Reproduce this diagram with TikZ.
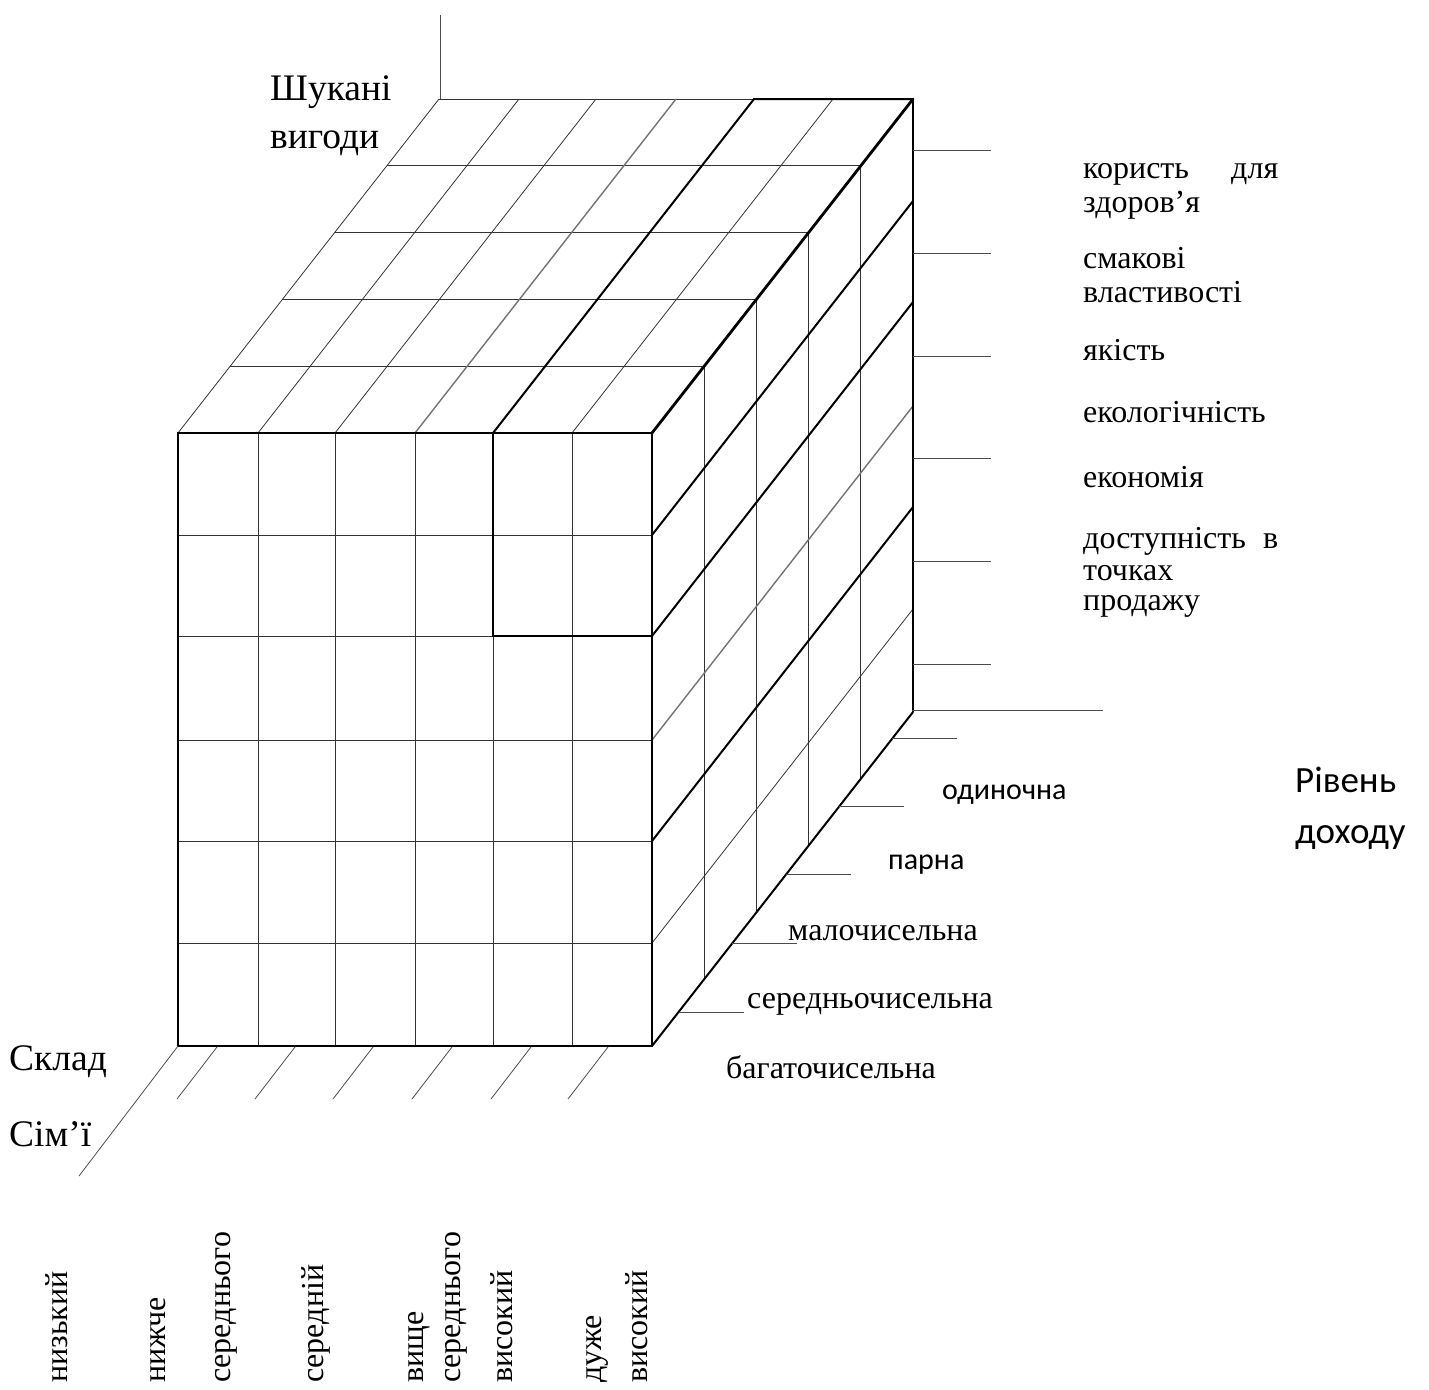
\documentclass[tikz,border=0pt]{standalone}
\usepackage{fontspec}
\usetikzlibrary{calc}
\setmainfont{Liberation Serif}
\newfontfamily\sansf{Carlito}
\begin{document}
\begin{tikzpicture}[x=1pt,y=-1pt,
  gridln/.style={line width=0.8pt, black!80},
  grayln/.style={line width=1.4pt, black!55},
  boldln/.style={line width=2pt, black},
  xboldln/.style={line width=2.8pt, black},
  axisln/.style={line width=0.8pt, black!70},
  lbl/.style={inner sep=0pt, anchor=base west, font=\fontsize{32}{33}\selectfont},
  biglbl/.style={inner sep=0pt, anchor=base west, font=\fontsize{37.5}{45}\selectfont},
  sanslbl/.style={inner sep=0pt, anchor=base west, font=\sansf\fontsize{30}{36}\selectfont},
  bigsans/.style={inner sep=0pt, anchor=base west, font=\sansf\fontsize{37}{44}\selectfont},
  vlbl/.style={inner sep=0pt, anchor=base west, rotate=90, font=\fontsize{32}{33}\selectfont}
]
\useasboundingbox (0,0) rectangle (1429,1389);

% named corners
\coordinate (FTL) at (178,433);
\coordinate (FTR) at (652,433);
\coordinate (FBL) at (178,1046);
\coordinate (FBR) at (652,1046);
\coordinate (BTL) at (439,99);
\coordinate (BTR) at (913,99);
\coordinate (BBR) at (913,712);

% ---- thin grid lines ----
\foreach \x in {258,335,415,493,572}
  \draw[gridln] (\x,433) -- (\x,1046);
\foreach \y in {535,636,740,841,943}
  \draw[gridln] (178,\y) -- (652,\y);
\foreach \x in {178,258,335,572}
  \draw[gridln] (\x,433) -- ++(261,-334);
\foreach \k in {1,...,4}
  \draw[gridln] ({178+52.2*\k},{433-66.8*\k}) -- ++(474,0);
\draw[gridln] (BTL) -- (754,99);
\foreach \k in {1,...,4}
  \draw[gridln] ({652+52.2*\k},{433-66.8*\k}) -- ++(0,613);
\draw[gridln] (652,943) -- ++(261,-334);

% ---- gray lines ----
\draw[grayln] (415,433) -- ++(261,-334);
\draw[grayln] (652,740) -- ++(261,-334);

% ---- thick lines ----
\draw[boldln] (FTL) rectangle (FBR);
\draw[boldln] (493,433) rectangle (652,636);
\draw[boldln] (493,433) -- (754,99) -- (BTR);
\draw[xboldln, line cap=round] (FTR) -- (BTR);
\draw[boldln] (BTR) -- (BBR);
\draw[boldln] (652,535) -- ++(261,-334);
\draw[boldln] (652,636) -- ++(261,-334);
\draw[boldln] (652,841) -- ++(261,-334);
\draw[boldln] (FBR) -- (BBR);

% ---- axes and ticks ----
\coordinate (Vtop) at (440,15);
\draw[axisln] (Vtop) -- (440,99);
\coordinate (Lend) at (79,1176);
\draw[axisln] (FBL) -- (Lend);
\coordinate (Rend) at (1103,710);
\draw[axisln] (912,710) -- (Rend);
\foreach \y in {150,253,356,458,561,664}
  \draw[axisln] (913,\y) -- (991,\y);
\foreach \t in {0.102,0.308,0.513,0.717,0.921}
  \draw[axisln] ($(FBR)!\t!(BBR)$) -- ++(65,0);
\foreach \x in {217,295,373,452,531,608}
  \draw[axisln] (\x,1047) -- ++(-40,52);

% ---- labels ----
\node[biglbl] (shukani) at (270,100) {Шукані};
\node[biglbl] (vyhody) at (270,148) {вигоди};
\node[biglbl] (sklad) at (9,1070) {Склад};
\node[biglbl] (simi) at (9,1146) {Сім’ї};

\node[lbl] (b1a) at (1083,178) {\makebox[195pt][l]{користь\hfill для}};
\node[lbl] (b1b) at (1083,212) {здоров’я};
\node[lbl] (b2a) at (1083,268) {смакові};
\node[lbl] (b2b) at (1083,302) {властивості};
\node[lbl] (b3) at (1083,360) {якість};
\node[lbl] (b4) at (1083,422) {екологічність};
\node[lbl] (b5) at (1083,487) {економія};
\node[lbl] (b6a) at (1083,548) {\makebox[195pt][l]{доступність\hfill в}};
\node[lbl] (b6b) at (1083,580) {точках};
\node[lbl] (b6c) at (1083,610) {продажу};

\node[bigsans] (riven) at (1295,792) {Рівень};
\node[bigsans] (dohodu) at (1295,843) {доходу};

\node[sanslbl] (f1) at (942,799) {одиночна};
\node[sanslbl] (f2) at (888,869) {парна};
\node[lbl] (f3) at (788,940) {малочисельна};
\node[lbl] (f4) at (747,1008) {середньочисельна};
\node[lbl] (f5) at (726,1078) {багаточисельна};

\node[vlbl] (i1) at (67,1383) {низький};
\node[vlbl] (i2a) at (165,1383) {нижче};
\node[vlbl] (i2b) at (230,1383) {середнього};
\node[vlbl] (i3) at (323,1383) {середній};
\node[vlbl] (i4a) at (423,1383) {вище};
\node[vlbl] (i4b) at (460,1383) {середнього};
\node[vlbl] (i5) at (512,1383) {високий};
\node[vlbl] (i6a) at (601,1383) {дуже};
\node[vlbl] (i6b) at (647,1383) {високий};
\end{tikzpicture}
\end{document}
